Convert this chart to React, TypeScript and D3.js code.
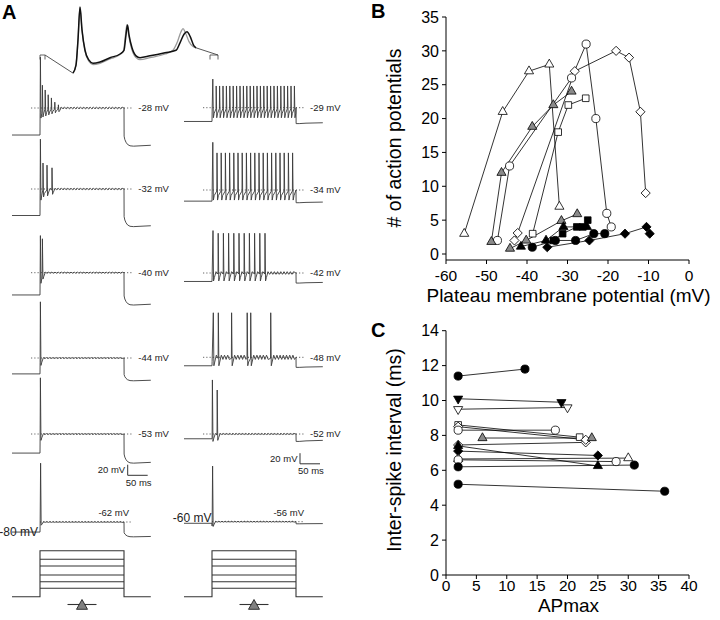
import React from 'react';
import * as d3 from 'd3';

const FONT = "'Liberation Sans', Arial, Helvetica, sans-serif";

// ---------------- Panel A data (ms, mV) ----------------
const STEP_MS = 210;
const leftPlateau = [-28, -32, -40, -44, -53, -62];
const leftRest = [-79, -82, -82, -74, -89, -81];
const leftAhpDepth = [21, 21, 19, 13, 19, 9];
const leftRipple = [1.4, 1.2, 1.0, 0.8, 0.8, 0.8];
// [time ms, peak mV, trough mV]
const leftSpikes: number[][][] = [
  [[1, 68, -47], [6, 15, -45], [13, 6, -43], [20.5, -3, -41], [28.5, -9, -39], [37, -17, -37], [46, -22, -35]],
  [[1, 62, -53], [7.5, 17, -47], [17.5, 13, -45], [30, 8, -42]],
  [[1, 30, -60], [6, 24, -52]],
  [[1, 62, -58]],
  [[1, 53, -65]],
  [[1.5, 49, -68]],
];
const rightPlateau = [-29, -34, -42, -48, -52, -56];
const rightRest = [-55, -55, -58, -64, -61, -59];
const rightAhpDepth = [4, 3, 3, 3, 5, 1];
const rightRipple = [0.8, 0.8, 2.5, 4, 1, 0.8];
const r1SpikeTimes = [2, 10.5, 19, 27.5, 36, 44.5, 53, 61.5, 70, 78.5, 87, 95.5, 104, 112.5, 121, 129.5, 138, 146.5, 155, 163.5, 172, 180.5, 189, 197.5, 206];
const r2SpikeTimes = [2, 12.5, 23, 33.5, 44, 54.5, 65, 75.5, 86, 96.5, 107, 117.5, 128, 138.5, 149, 159.5, 170, 180.5, 191, 201.5];
const r3SpikeTimes = [2.5, 15.5, 28.5, 41.5, 54.5, 67.5, 80.5, 93.5, 106.5, 119.5, 132.5];
const r4SpikeTimes = [3.3, 15.8, 49, 88, 96.8, 146.8];
const rightSpikes: number[][][] = [
  r1SpikeTimes.map((t, i) => [t, i === 0 ? 25 : 12, -48]),
  r2SpikeTimes.map((t, i) => [t, i === 0 ? 56 : 36, -53]),
  r3SpikeTimes.map((t, i) => [t, i === 0 ? 38 : 33, -57]),
  r4SpikeTimes.map((t) => [t, 36, -64]),
  [[1, 50, -66], [13, 31, -64]],
  [[1.5, 49, -65]],
];
// after-hyperpolarisation shape: [ms after step end, fraction of depth]
const leftAhpShape = [[0.3, 0.1], [2, 0.4], [5, 0.65], [9, 0.85], [15, 0.97], [24, 1], [40, 0.97], [67, 0.92]];
const rightAhpShape = [[0.3, 1], [8, 1], [25, 0.8], [67, 0.6]];
// inset: magnified first spikes (ms, mV)
const insetBlack = [[0, -67], [0.6, -54], [1.0, -13], [1.4, 40], [1.8, 3], [2.4, -30], [3.2, -46], [4.0, -51], [5.4, -49], [7.4, -42], [9.4, -36], [10.2, -30], [10.6, -5], [10.9, 11], [11.2, -5], [11.8, -26], [12.6, -39], [13.4, -42], [15.4, -39], [18.4, -34], [20.6, -30], [21.4, -18], [22.2, -4], [22.8, 0], [23.4, -7], [24.2, -23], [24.6, -26]];
const insetGray = [[0, -67], [0.6, -54], [1.0, -13], [1.4, 39], [1.8, 2], [2.4, -31], [3.2, -48], [4.0, -53], [5.4, -51], [7.4, -44], [9.4, -37], [10.1, -31], [10.5, -5], [10.8, 12], [11.1, -4], [11.7, -27], [12.5, -41], [13.4, -45], [15.4, -42], [18.4, -36], [20.0, -30], [20.8, -18], [21.6, 0], [22.0, 5], [22.5, -2], [23.2, -16], [24.0, -24], [24.6, -26]];
const stepLevels = [1, 0.813, 0.667, 0.472, 0.326, 0.183];

// ---------------- Panel B data ----------------
const bXTicks = [-60, -50, -40, -30, -20, -10, 0];
const bYTicks = [0, 5, 10, 15, 20, 25, 30, 35];
const bOpenTriangle = [[-55.5, 3], [-46, 21], [-39.5, 27], [-34.5, 28], [-32, 7]];
const bOpenDiamond = [[-43.1, 2], [-42.3, 3.1], [-28.2, 27], [-18, 30], [-14.8, 29], [-12, 21], [-10.7, 9]];
const bOpenCircle = [[-47.3, 2], [-44.3, 13], [-29, 26], [-25.4, 31], [-23, 20], [-20.3, 6], [-19.2, 4]];
const bOpenSquare = [[-38.6, 3], [-32.3, 18], [-29.8, 22], [-25.5, 23]];
const bGrayTriangle1 = [[-48.8, 1.8], [-46.3, 12], [-38.7, 18.8], [-33.5, 22], [-29, 24]];
const bGrayTriangle2 = [[-44.2, 0.8], [-40.2, 2], [-31.5, 4.9], [-27.6, 5.9]];
const bFilledTriangle = [[-41.5, 1.1], [-35.3, 2], [-31, 4], [-25.2, 4]];
const bFilledSquare = [[-33.5, 2], [-31.2, 3], [-27.7, 4], [-26.2, 4], [-25, 5]];
const bFilledCircle = [[-38.7, 1], [-33, 2], [-28, 2], [-23.5, 3], [-20.8, 3]];
const bFilledDiamond = [[-35, 1], [-24.6, 2], [-15.8, 3], [-10.5, 4], [-9.7, 3]];

// ---------------- Panel C data ----------------
const cXTicks = [0, 5, 10, 15, 20, 25, 30, 35, 40];
const cYTicks = [0, 2, 4, 6, 8, 10, 12, 14];
const cFilledCircleA = [[2, 11.4], [13, 11.8]];
const cFilledDown = [[2, 10.1], [19, 9.9]];
const cOpenDown = [[2, 9.5], [20, 9.6]];
const cOpenSquare = [[2, 8.6], [22, 7.9]];
const cOpenDiamondA = [[2, 8.5], [23, 7.75]];
const cOpenCircleA = [[2, 8.3], [18, 8.3]];
const cGrayTriangle = [[6, 7.85], [24, 7.85]];
const cOpenDiamondB = [[2, 7.45], [23, 7.6]];
const cFilledTriangle = [[2, 7.4], [25, 6.25]];
const cFilledDiamond = [[2, 7.1], [25, 6.85]];
const cOpenTriangle = [[2, 6.65], [30, 6.7]];
const cOpenCircleB = [[2, 6.6], [28, 6.5]];
const cFilledCircleB = [[2, 6.2], [31, 6.3]];
const cFilledCircleC = [[2, 5.2], [36, 4.8]];

type Shape = 'circle' | 'triangle' | 'triangleDown' | 'square' | 'diamond';
const GRAY = '#8a8a8a';

const bSeries: { shape: Shape; fill: string; pts: number[][] }[] = [
  { shape: 'triangle', fill: '#fff', pts: bOpenTriangle },
  { shape: 'diamond', fill: '#fff', pts: bOpenDiamond },
  { shape: 'circle', fill: '#fff', pts: bOpenCircle },
  { shape: 'square', fill: '#fff', pts: bOpenSquare },
  { shape: 'triangle', fill: GRAY, pts: bGrayTriangle1 },
  { shape: 'triangle', fill: GRAY, pts: bGrayTriangle2 },
  { shape: 'triangle', fill: '#000', pts: bFilledTriangle },
  { shape: 'square', fill: '#000', pts: bFilledSquare },
  { shape: 'circle', fill: '#000', pts: bFilledCircle },
  { shape: 'diamond', fill: '#000', pts: bFilledDiamond },
];
const cSeries: { shape: Shape; fill: string; pts: number[][] }[] = [
  { shape: 'circle', fill: '#000', pts: cFilledCircleA },
  { shape: 'triangleDown', fill: '#000', pts: cFilledDown },
  { shape: 'triangleDown', fill: '#fff', pts: cOpenDown },
  { shape: 'square', fill: '#fff', pts: cOpenSquare },
  { shape: 'diamond', fill: '#fff', pts: cOpenDiamondB },
  { shape: 'diamond', fill: '#fff', pts: cOpenDiamondA },
  { shape: 'circle', fill: '#fff', pts: cOpenCircleA },
  { shape: 'triangle', fill: GRAY, pts: cGrayTriangle },
  { shape: 'triangle', fill: '#000', pts: cFilledTriangle },
  { shape: 'diamond', fill: '#000', pts: cFilledDiamond },
  { shape: 'triangle', fill: '#fff', pts: cOpenTriangle },
  { shape: 'circle', fill: '#fff', pts: cOpenCircleB },
  { shape: 'circle', fill: '#000', pts: cFilledCircleB },
  { shape: 'circle', fill: '#000', pts: cFilledCircleC },
];

// ---------------- Layout ----------------
const LEFT_X0 = 40;
const RIGHT_X0 = 212;
const PX_PER_MS = 0.4;
const PX_PER_MV = 0.53;
const LEFT_Y = [108, 189, 272.7, 358, 434, 522];
const RIGHT_Y = [107.7, 190, 273, 357.3, 434, 521.7];

function addRipple(pts: number[][], t0: number, t1: number, plateau: number, amp: number) {
  const period = 8;
  let k = 0;
  for (let t = t0 + period / 2; t < t1 - period / 4; t += period / 2) {
    pts.push([t, plateau + (k % 2 === 0 ? amp : -amp)]);
    k++;
  }
}

function buildTrace(spikes: number[][], plateau: number, rest: number, ripple: number, ahpShape: number[][], ahpDepth: number) {
  const pts: number[][] = [[-70, rest], [0, rest]];
  let cur = 0;
  spikes.forEach(([t, peak, trough], i) => {
    if (i === 0) pts.push([Math.min(0.3, t - 0.3), plateau - 8]);
    else {
      addRipple(pts, cur, t - 1, plateau, ripple);
      pts.push([t - 0.5, plateau - 2]);
    }
    pts.push([t, peak]);
    pts.push([t + 1.4, trough]);
    pts.push([t + 3.5, (trough + plateau) / 2 - 1]);
    cur = t + 3.5;
  });
  addRipple(pts, cur, STEP_MS - 1, plateau, ripple);
  pts.push([STEP_MS, plateau]);
  ahpShape.forEach(([dt, f]) => pts.push([STEP_MS + dt, rest - ahpDepth * f]));
  return pts;
}

function Marker({ shape, fill, x, y }: { shape: Shape; fill: string; x: number; y: number }) {
  let sym: d3.SymbolType = d3.symbolCircle;
  let rot = 0;
  let size = 52;
  if (shape === 'triangle') { sym = d3.symbolTriangle; size = 36; }
  if (shape === 'triangleDown') { sym = d3.symbolTriangle; rot = 180; size = 36; }
  if (shape === 'square') { sym = d3.symbolSquare; size = 44; }
  if (shape === 'diamond') { sym = d3.symbolSquare; rot = 45; size = 42; }
  const d = d3.symbol(sym, size)() || '';
  return <path d={d} transform={`translate(${x},${y}) rotate(${rot})`} fill={fill} stroke="#000" strokeWidth={0.8} />;
}

function TraceColumn({ x0, ys, plateaus, rests, spikes, ripples, ahpShape, ahpDepths, labelX, side }: any) {
  const x = d3.scaleLinear().domain([0, 50]).range([x0, x0 + 50 * PX_PER_MS]);
  return (
    <g>
      {plateaus.map((p: number, i: number) => {
        const y = d3.scaleLinear().domain([p, p + 20]).range([ys[i], ys[i] - 20 * PX_PER_MV]);
        const pts = buildTrace(spikes[i], p, rests[i], ripples[i], ahpShape, ahpDepths[i]);
        const line = d3.line<number[]>().x((d) => x(d[0])).y((d) => y(d[1]));
        const last = i === plateaus.length - 1;
        const dotStart = last ? 0 : -22;
        return (
          <g key={i}>
            <line x1={x(dotStart)} x2={x(230)} y1={y(p)} y2={y(p)} stroke="#444" strokeWidth={1} strokeDasharray="1 2.2" />
            <path d={line(pts) || ''} fill="none" stroke="#3a3a3a" strokeWidth={0.9} strokeLinejoin="round" />
            {!last && (
              <text x={labelX} y={y(p)} dy="0.35em" fontSize={9.5} fill="#222">{`${p} mV`}</text>
            )}
            {last && (
              <text x={side === 'left' ? 129 : 304} y={y(p) - 6} textAnchor="end" fontSize={9.5} fill="#222">{`${p} mV`}</text>
            )}
            {last && (
              <text x={side === 'left' ? 38 : 211.5} y={y(rests[i]) - (side === 'left' ? 0 : 5)} dy="0.35em" textAnchor="end" fontSize={12} fill="#222">{`${side === 'left' ? -80 : -60} mV`}</text>
            )}
          </g>
        );
      })}
    </g>
  );
}

function StepProtocol({ x0 }: { x0: number }) {
  const x = d3.scaleLinear().domain([0, 50]).range([x0, x0 + 50 * PX_PER_MS]);
  const y = d3.scaleLinear().domain([0, 1]).range([596.7, 550.7]);
  const outline = d3.line<number[]>().x((d) => x(d[0])).y((d) => y(d[1]))([
    [-70, 0], [0, 0], [0, 1], [STEP_MS, 1], [STEP_MS, 0], [277, 0],
  ]);
  const cx = x(STEP_MS / 2);
  return (
    <g stroke="#333" strokeWidth={1.1} fill="none">
      <path d={outline || ''} />
      {stepLevels.slice(1).map((l, i) => (
        <line key={i} x1={x(0)} x2={x(STEP_MS)} y1={y(l)} y2={y(l)} />
      ))}
      <line x1={cx - 14.5} x2={cx + 14.5} y1={604.5} y2={604.5} />
      <path d={`M${cx},599.5 L${cx + 5.5},609.3 L${cx - 5.5},609.3 Z`} fill="#808080" stroke="#222" strokeWidth={0.9} />
    </g>
  );
}

function ScaleBar({ x0, y0 }: { x0: number; y0: number }) {
  const h = 20 * PX_PER_MV;
  const w = 50 * PX_PER_MS;
  return (
    <g>
      <path d={`M${x0},${y0 - h} V${y0} H${x0 + w}`} fill="none" stroke="#333" strokeWidth={1} />
      <text x={x0 - 2.5} y={y0 - h / 2} dy="0.35em" textAnchor="end" fontSize={9.5} fill="#222">20 mV</text>
      <text x={x0 - 2} y={y0 + 7} dy="0.35em" fontSize={9.5} fill="#222">50 ms</text>
    </g>
  );
}

function Inset() {
  const x = d3.scaleLinear().domain([0, 24.6]).range([73, 196]);
  const y = d3.scaleLinear().domain([-70, 40]).range([75, 7]);
  const line = d3.line<number[]>().x((d) => x(d[0])).y((d) => y(d[1])).curve(d3.curveMonotoneX);
  const b0 = insetBlack[0];
  const bN = insetBlack[insetBlack.length - 1];
  return (
    <g fill="none">
      <path d="M40,59.5 V55 H45 V59.5" stroke="#555" strokeWidth={0.9} />
      <path d="M210,59.5 V55 H218 V59.5" stroke="#555" strokeWidth={0.9} />
      <line x1={45} y1={55} x2={x(b0[0])} y2={y(b0[1])} stroke="#444" strokeWidth={0.9} />
      <line x1={x(bN[0])} y1={y(bN[1])} x2={218} y2={55} stroke="#444" strokeWidth={0.9} />
      <path d={line(insetGray) || ''} stroke="#9a9a9a" strokeWidth={1.3} />
      <path d={line(insetBlack) || ''} stroke="#111" strokeWidth={1.5} />
    </g>
  );
}

function ScatterPanel({ xDom, yDom, xRange, yRange, xTicks, yTicks, axisY, tickLabelDy, series, xTitle, yTitle, xTitleY, yTitleCY }: any) {
  const x = d3.scaleLinear().domain(xDom).range(xRange);
  const y = d3.scaleLinear().domain(yDom).range(yRange);
  const line = d3.line<number[]>().x((d) => x(d[0])).y((d) => y(d[1]));
  return (
    <g>
      <line x1={xRange[0]} x2={xRange[0]} y1={yRange[1]} y2={axisY} stroke="#000" strokeWidth={1} />
      <line x1={xRange[0]} x2={xRange[1]} y1={axisY} y2={axisY} stroke="#000" strokeWidth={1} />
      {yTicks.map((t: number) => (
        <g key={'y' + t}>
          <line x1={xRange[0] - 4} x2={xRange[0]} y1={y(t)} y2={y(t)} stroke="#000" />
          <text x={xRange[0] - 7} y={y(t)} dy="0.36em" textAnchor="end" fontSize={16}>{t}</text>
        </g>
      ))}
      {xTicks.map((t: number) => (
        <g key={'x' + t}>
          <line x1={x(t)} x2={x(t)} y1={axisY} y2={axisY + 4} stroke="#000" />
          <text x={x(t)} y={axisY + tickLabelDy} textAnchor="middle" fontSize={15.5}>{t}</text>
        </g>
      ))}
      <text x={(xRange[0] + xRange[1]) / 2 + 1} y={xTitleY} textAnchor="middle" fontSize={19}>{xTitle}</text>
      <text transform={`translate(401,${yTitleCY}) rotate(-90)`} textAnchor="middle" fontSize={19.5}>{yTitle}</text>
      {series.map((s: any, i: number) => (
        <path key={'l' + i} d={line(s.pts) || ''} fill="none" stroke="#000" strokeWidth={0.8} />
      ))}
      {series.map((s: any, i: number) => (
        <g key={'m' + i}>
          {s.pts.map((p: number[], j: number) => (
            <Marker key={j} shape={s.shape} fill={s.fill} x={x(p[0])} y={y(p[1])} />
          ))}
        </g>
      ))}
    </g>
  );
}

export default function App() {
  return (
    <svg width={720} height={620} viewBox="0 0 720 620" style={{ position: 'absolute', left: 0, top: 0, background: '#fff' }} fontFamily={FONT}>
      <rect width={720} height={620} fill="#fff" />
      <text x={2} y={19} fontSize={20} fontWeight="bold">A</text>
      <text x={371} y={18} fontSize={20} fontWeight="bold">B</text>
      <text x={371} y={337} fontSize={20} fontWeight="bold">C</text>

      <Inset />
      <TraceColumn x0={LEFT_X0} ys={LEFT_Y} plateaus={leftPlateau} rests={leftRest} spikes={leftSpikes} ripples={leftRipple}
        ahpShape={leftAhpShape} ahpDepths={leftAhpDepth} labelX={138.3} side="left" />
      <TraceColumn x0={RIGHT_X0} ys={RIGHT_Y} plateaus={rightPlateau} rests={rightRest} spikes={rightSpikes} ripples={rightRipple}
        ahpShape={rightAhpShape} ahpDepths={rightAhpDepth} labelX={310} side="right" />
      <ScaleBar x0={127.7} y0={475.3} />
      <ScaleBar x0={300} y0={463.8} />
      <StepProtocol x0={LEFT_X0} />
      <StepProtocol x0={RIGHT_X0} />

      <ScatterPanel xDom={[-60, 0]} yDom={[0, 35]} xRange={[446, 689]} yRange={[254, 17]} xTicks={bXTicks} yTicks={bYTicks}
        axisY={260} tickLabelDy={21} series={bSeries} xTitle="Plateau membrane potential (mV)" yTitle="# of action potentials" xTitleY={302} yTitleCY={138} />
      <ScatterPanel xDom={[0, 40]} yDom={[0, 14]} xRange={[446, 689]} yRange={[575, 330.7]} xTicks={cXTicks} yTicks={cYTicks}
        axisY={575} tickLabelDy={16} series={cSeries} xTitle="APmax" yTitle="Inter-spike interval (ms)" xTitleY={612} yTitleCY={450} />
    </svg>
  );
}
